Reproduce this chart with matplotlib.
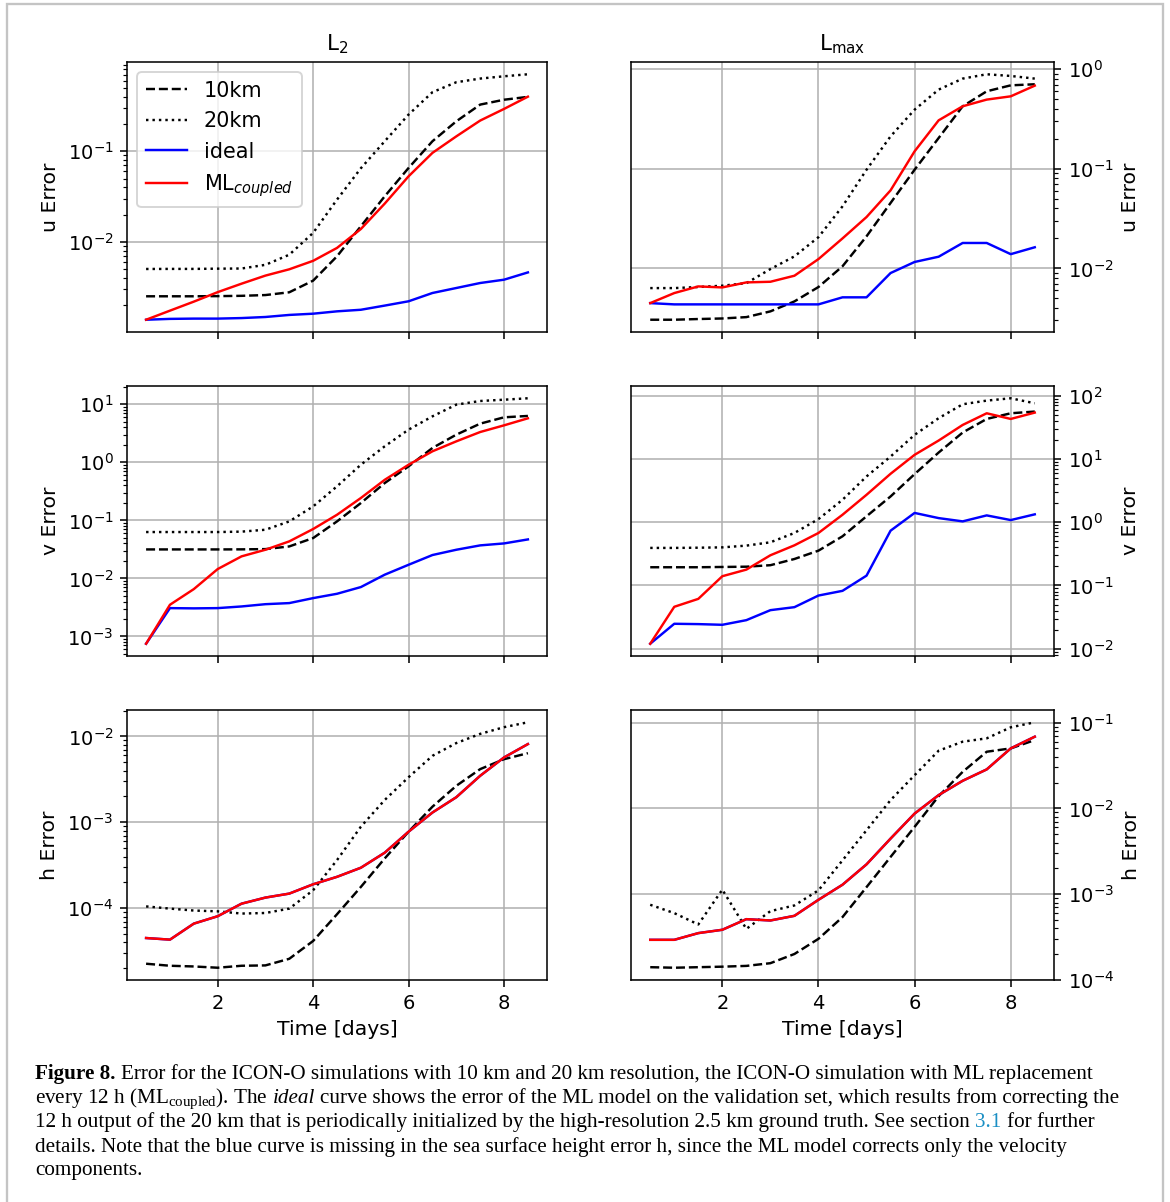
import matplotlib.pyplot as plt
from matplotlib.patches import Rectangle
from matplotlib.text import Annotation

# time axis: one sample every 12 h
days = [0.5, 1.0, 1.5, 2.0, 2.5, 3.0, 3.5, 4.0, 4.5, 5.0, 5.5, 6.0, 6.5, 7.0, 7.5, 8.0, 8.5]

# u error, L2 norm
u_l2_10km = [2.52e-3, 2.52e-3, 2.52e-3, 2.53e-3, 2.55e-3, 2.6e-3, 2.79e-3, 3.75e-3, 6.95e-3,
             1.49e-2, 3.19e-2, 6.55e-2, 0.129, 0.214, 0.327, 0.37, 0.398]
u_l2_20km = [5.04e-3, 5.05e-3, 5.05e-3, 5.08e-3, 5.1e-3, 5.6e-3, 7.24e-3, 1.26e-2, 2.93e-2,
             6.5e-2, 0.129, 0.254, 0.448, 0.577, 0.633, 0.671, 0.706]
u_l2_ideal = [1.39e-3, 1.42e-3, 1.43e-3, 1.43e-3, 1.45e-3, 1.49e-3, 1.57e-3, 1.62e-3, 1.72e-3,
              1.79e-3, 1.99e-3, 2.22e-3, 2.74e-3, 3.11e-3, 3.53e-3, 3.84e-3, 4.62e-3]
u_l2_ml = [1.39e-3, 1.75e-3, 2.2e-3, 2.8e-3, 3.47e-3, 4.26e-3, 5.0e-3, 6.2e-3, 8.6e-3,
           1.39e-2, 2.65e-2, 5.3e-2, 9.6e-2, 0.146, 0.218, 0.293, 0.40]

# u error, max norm
u_max_10km = [3.05e-3, 3.05e-3, 3.1e-3, 3.14e-3, 3.24e-3, 3.7e-3, 4.66e-3, 6.5e-3, 1.05e-2,
              2.1e-2, 4.54e-2, 9.8e-2, 0.204, 0.425, 0.601, 0.69, 0.707]
u_max_20km = [6.34e-3, 6.34e-3, 6.5e-3, 6.7e-3, 7.1e-3, 9.85e-3, 1.32e-2, 2.06e-2, 4.2e-2,
              9.8e-2, 0.212, 0.393, 0.625, 0.806, 0.891, 0.857, 0.806]
u_max_ideal = [4.48e-3, 4.35e-3, 4.35e-3, 4.35e-3, 4.35e-3, 4.35e-3, 4.35e-3, 4.35e-3, 5.12e-3,
               5.12e-3, 8.98e-3, 1.16e-2, 1.31e-2, 1.8e-2, 1.8e-2, 1.39e-2, 1.63e-2]
u_max_ml = [4.48e-3, 5.65e-3, 6.59e-3, 6.44e-3, 7.23e-3, 7.34e-3, 8.44e-3, 1.24e-2, 2.0e-2,
            3.28e-2, 6.08e-2, 0.15, 0.307, 0.425, 0.496, 0.535, 0.685]

# v error, L2 norm
v_l2_10km = [3.16e-2, 3.16e-2, 3.16e-2, 3.16e-2, 3.17e-2, 3.2e-2, 3.56e-2, 4.96e-2, 9.6e-2,
             0.199, 0.44, 0.853, 1.77, 3.0, 4.64, 5.97, 6.3]
v_l2_20km = [6.3e-2, 6.3e-2, 6.3e-2, 6.3e-2, 6.4e-2, 6.9e-2, 9.6e-2, 0.174, 0.386,
             0.91, 1.89, 3.66, 6.2, 9.87, 11.4, 12.0, 12.7]
v_l2_ideal = [7.5e-4, 3.08e-3, 3.05e-3, 3.08e-3, 3.29e-3, 3.6e-3, 3.76e-3, 4.58e-3, 5.44e-3,
              7.1e-3, 1.16e-2, 1.72e-2, 2.53e-2, 3.12e-2, 3.71e-2, 4.01e-2, 4.7e-2]
v_l2_ml = [7.5e-4, 3.52e-3, 6.55e-3, 1.45e-2, 2.4e-2, 3.12e-2, 4.35e-2, 7.1e-2, 0.125,
           0.243, 0.50, 0.91, 1.55, 2.3, 3.33, 4.34, 5.74]

# v error, max norm
v_max_10km = [0.194, 0.194, 0.194, 0.196, 0.198, 0.209, 0.262, 0.355, 0.598,
              1.24, 2.55, 5.75, 12.6, 26.1, 42.8, 52.6, 56.0]
v_max_20km = [0.392, 0.392, 0.395, 0.4, 0.426, 0.481, 0.675, 1.12, 2.26,
              5.28, 10.9, 24.0, 44.0, 73.0, 83.4, 90.8, 75.7]
v_max_ideal = [1.2e-2, 2.48e-2, 2.45e-2, 2.39e-2, 2.83e-2, 4.07e-2, 4.54e-2, 6.93e-2, 8.22e-2,
               0.143, 0.734, 1.4, 1.16, 1.03, 1.28, 1.08, 1.33]
v_max_ml = [1.2e-2, 4.6e-2, 6.14e-2, 0.14, 0.178, 0.30, 0.431, 0.675, 1.31,
            2.71, 5.82, 11.6, 19.5, 34.4, 52.6, 42.8, 53.9]

# h error, L2 norm (ideal coincides with ML_coupled)
h_l2_10km = [2.26e-5, 2.14e-5, 2.1e-5, 2.03e-5, 2.14e-5, 2.16e-5, 2.58e-5, 4.16e-5, 8.51e-5,
             1.77e-4, 3.8e-4, 7.78e-4, 1.52e-3, 2.66e-3, 4.16e-3, 5.43e-3, 6.38e-3]
h_l2_20km = [1.05e-4, 9.9e-5, 9.4e-5, 9.2e-5, 8.67e-5, 8.8e-5, 9.9e-5, 1.62e-4, 3.63e-4,
             8.89e-4, 1.82e-3, 3.35e-3, 5.94e-3, 8.36e-3, 1.07e-2, 1.28e-2, 1.46e-2]
h_l2_ml = [4.5e-5, 4.31e-5, 6.62e-5, 8.07e-5, 1.13e-4, 1.33e-4, 1.48e-4, 1.9e-4, 2.32e-4,
           2.96e-4, 4.43e-4, 7.78e-4, 1.3e-3, 1.96e-3, 3.48e-3, 5.69e-3, 8.14e-3]
h_l2_ideal = h_l2_ml

# h error, max norm
h_max_10km = [1.41e-4, 1.39e-4, 1.41e-4, 1.43e-4, 1.46e-4, 1.57e-4, 2.01e-4, 3.02e-4, 5.41e-4,
              1.21e-3, 2.72e-3, 6.1e-3, 1.39e-2, 2.67e-2, 4.58e-2, 5.01e-2, 6.26e-2]
h_max_20km = [7.53e-4, 6.02e-4, 4.44e-4, 1.13e-3, 3.94e-4, 6.35e-4, 7.4e-4, 1.11e-3, 2.48e-3,
              5.57e-3, 1.25e-2, 2.44e-2, 4.71e-2, 6.0e-2, 6.56e-2, 8.82e-2, 0.101]
h_max_ml = [2.94e-4, 2.94e-4, 3.52e-4, 3.85e-4, 5.12e-4, 4.94e-4, 5.6e-4, 8.61e-4, 1.29e-3,
            2.23e-3, 4.45e-3, 8.71e-3, 1.43e-2, 2.1e-2, 2.85e-2, 5.01e-2, 6.86e-2]
h_max_ideal = h_max_ml

labels = ["10km", "20km", "ideal", r"ML$_{coupled}$"]
styles = [dict(color="k", ls="--"), dict(color="k", ls=":"),
          dict(color="b", ls="-"), dict(color="r", ls="-")]

rows = [
    ("u Error", [u_l2_10km, u_l2_20km, u_l2_ideal, u_l2_ml],
     [u_max_10km, u_max_20km, u_max_ideal, u_max_ml]),
    ("v Error", [v_l2_10km, v_l2_20km, v_l2_ideal, v_l2_ml],
     [v_max_10km, v_max_20km, v_max_ideal, v_max_ml]),
    ("h Error", [h_l2_10km, h_l2_20km, h_l2_ideal, h_l2_ml],
     [h_max_10km, h_max_20km, h_max_ideal, h_max_ml]),
]

W, H, DPI = 1170, 1202, 140
fig = plt.figure(figsize=(W / DPI, H / DPI), dpi=DPI)

# serif fonts for the mathtext pieces of the caption
plt.rcParams["mathtext.it"] = "Liberation Serif:italic"
plt.rcParams["mathtext.rm"] = "Liberation Serif"
plt.rcParams["mathtext.bf"] = "Liberation Serif:bold"

col_left = [127, 631]
col_width = [420, 423]
row_top = [62, 386, 710]
row_height = 270


def draw_panel(ax, series, right):
    for vals, lab, st in zip(series, labels, styles):
        ax.plot(days, vals, label=lab, lw=1.25, **st)
    ax.set_yscale("log")
    ax.grid(True)
    ax.set_xticks([2, 4, 6, 8])
    if right:
        ax.yaxis.tick_right()
        ax.yaxis.set_label_position("right")


for r, (ylab, l2_series, max_series) in enumerate(rows):
    for c, series in enumerate([l2_series, max_series]):
        rect = [col_left[c] / W, 1 - (row_top[r] + row_height) / H,
                col_width[c] / W, row_height / H]
        ax = fig.add_axes(rect)
        draw_panel(ax, series, right=(c == 1))
        ax.set_ylabel(ylab, fontsize=10.5)
        if r < 2:
            ax.tick_params(labelbottom=False)
        else:
            ax.set_xlabel("Time [days]", fontsize=10.5)
        if r == 0:
            ax.set_title(r"L$_2$" if c == 0 else r"L$_{\mathrm{max}}$", fontsize=11)
        if r == 0 and c == 0:
            ax.legend(loc="upper left", fontsize=10.7)

# caption below the panels
cap_kw = dict(family="Liberation Serif", fontsize=10.9, math_fontfamily="custom")
x0 = 35 / W


def caption_line(y_px, pieces):
    """Write one caption line; each styled piece follows the previous one."""
    y = 1 - y_px / H
    last = None
    for text, extra in pieces:
        kw = dict(cap_kw)
        kw.update(extra)
        if last is None:
            last = fig.text(x0, y, text, va="baseline", ha="left", **kw)
        else:
            last = fig.add_artist(Annotation(
                text, xy=(1, y), xycoords=(last, "figure fraction"),
                xytext=(2.7, 0), textcoords="offset points",
                va="baseline", ha="left", **kw))


caption_line(1079, [("Figure 8.", dict(weight="bold")),
                    ("Error for the ICON-O simulations with 10 km and 20 km resolution, "
                     "the ICON-O simulation with ML replacement", {})])
caption_line(1103, [(r"every 12 h (ML$_{\mathrm{coupled}}$). The", {}),
                    ("ideal", dict(style="italic")),
                    ("curve shows the error of the ML model on the validation set, "
                     "which results from correcting the", {})])
caption_line(1127, [("12 h output of the 20 km that is periodically initialized by the "
                     "high-resolution 2.5 km ground truth. See section", {}),
                    ("3.1", dict(color="#1a8fc4")),
                    ("for further", {})])
caption_line(1152, [("details. Note that the blue curve is missing in the sea surface "
                     "height error h, since the ML model corrects only the velocity", {})])
caption_line(1175, [("components.", {})])

# light frame around the figure
fig.add_artist(Rectangle((7 / W, -0.01), (1163 - 7) / W, 1.01 - 4 / H,
                         transform=fig.transFigure, fill=False,
                         edgecolor="#c4c4c4", lw=1.2))

fig.savefig("out.png", dpi=DPI)
